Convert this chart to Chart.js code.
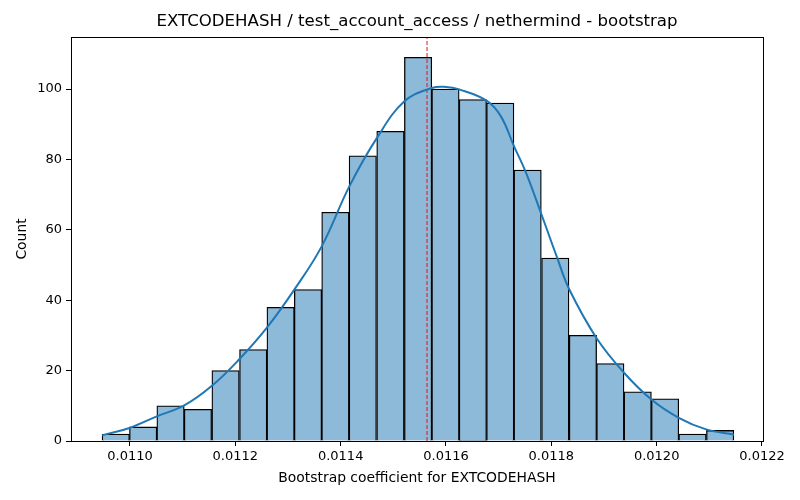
<!DOCTYPE html>
<html>
<head>
<meta charset="utf-8">
<script src="https://cdn.jsdelivr.net/npm/chart.js@4.4.1/dist/chart.umd.min.js"></script>
<style>
  html, body { margin: 0; padding: 0; background: #fff; }
  #grafica { display: block; }
</style>
</head>
<body>
<canvas id="grafica" width="800" height="500"></canvas>
<script>
// bin edges of the histogram (23 bins)
var binEdges = [0.010947, 0.010999, 0.011051, 0.011103, 0.011155, 0.011208, 0.011260, 0.011312,
                0.011364, 0.011416, 0.011468, 0.011521, 0.011573, 0.011625, 0.011677, 0.011729,
                0.011781, 0.011834, 0.011886, 0.011938, 0.011990, 0.012042, 0.012094, 0.012147];
var counts = [2, 4, 10, 9, 20, 26, 38, 43, 65, 81, 88, 109, 100, 97, 96, 77, 52, 30, 22, 14, 12, 2, 3];

// kde curve
var kdeX = [0.010947, 0.010999, 0.011051, 0.011103, 0.011155, 0.011208, 0.011260,
            0.011312, 0.011364, 0.011416, 0.011468, 0.011521, 0.011573, 0.011600,
            0.011625, 0.011677, 0.011704, 0.011729, 0.011752, 0.011781, 0.011810,
            0.011834, 0.011886, 0.011938, 0.011990, 0.012042, 0.012094, 0.012147];
var kdeY = [1.6, 3.7, 7.0, 10.1, 15.6, 23.3, 32.2,
            43.0, 55.3, 72.2, 85.9, 96.5, 100.3, 100.6,
            99.9, 96.7, 92.3, 83.8, 76.2, 64.5, 52.5,
            43.1, 29.2, 19.4, 11.8, 6.6, 3.3, 1.8];

var meanValue = 0.011564;
var xTicks = [0.0110, 0.0112, 0.0114, 0.0116, 0.0118, 0.0120, 0.0122];
var yTicks = [0, 20, 40, 60, 80, 100];
var xMin = 0.010888, xMax = 0.0122019;
var yMin = 0, yMax = 114.8;

var barData = [];
for (var i = 0; i < counts.length; i++) {
    barData.push({ x: (binEdges[i] + binEdges[i + 1]) / 2, y: counts[i] });
}
var kdeData = [];
for (var j = 0; j < kdeX.length; j++) {
    kdeData.push({ x: kdeX[j], y: kdeY[j] });
}

var fuente = "'DejaVu Sans', sans-serif";

var cajaEjes = {
    id: 'cajaEjes',
    afterDraw: function (chart) {
        var a = chart.chartArea, ctx = chart.ctx;
        ctx.save();
        ctx.strokeStyle = '#000';
        ctx.lineWidth = 1;
        ctx.strokeRect(Math.round(a.left) + 0.5, Math.round(a.top) + 0.5,
                       Math.round(a.right - a.left), Math.round(a.bottom - a.top));
        ctx.restore();
    }
};

var miCanvas = document.getElementById('grafica').getContext('2d');
var chart = new Chart(miCanvas, {
    type: 'bar',
    data: {
        datasets: [
            {
                type: 'line',
                label: 'kde',
                data: kdeData,
                borderColor: '#1f77b4',
                borderWidth: 2,
                pointRadius: 0,
                tension: 0.4,
                fill: false,
                order: 1
            },
            {
                type: 'line',
                label: 'mean',
                data: [{ x: meanValue, y: yMin }, { x: meanValue, y: yMax }],
                borderColor: '#e3141e',
                borderWidth: 1,
                borderDash: [4, 2],
                pointRadius: 0,
                fill: false,
                order: 2
            },
            {
                type: 'bar',
                label: 'Count',
                data: barData,
                backgroundColor: '#8ebad9',
                borderColor: '#000',
                borderWidth: 1.3,
                barPercentage: 1,
                categoryPercentage: 1,
                grouped: false,
                order: 3
            }
        ]
    },
    options: {
        responsive: false,
        animation: false,
        devicePixelRatio: 1,
        layout: { padding: { top: 0, right: 37, bottom: 0, left: 0 } },
        plugins: {
            legend: { display: false },
            tooltip: { enabled: false },
            title: {
                display: true,
                fullSize: false,
                text: 'EXTCODEHASH / test_account_access / nethermind - bootstrap',
                color: '#000',
                font: { family: fuente, size: 16.6, weight: 'normal' },
                padding: { top: 12, bottom: 5 }
            }
        },
        scales: {
            x: {
                type: 'linear',
                min: xMin,
                max: xMax,
                offset: false,
                afterFit: function (s) { s.height = 59; },
                afterBuildTicks: function (s) {
                    s.ticks = xTicks.map(function (v) { return { value: v }; });
                },
                ticks: {
                    color: '#000',
                    font: { family: fuente, size: 13 },
                    padding: 3,
                    maxRotation: 0,
                    autoSkip: false,
                    callback: function (v) { return v.toFixed(4); }
                },
                grid: { drawOnChartArea: false, offset: false, color: '#000', tickLength: 5 },
                border: { display: false },
                title: {
                    display: true,
                    text: 'Bootstrap coefficient for EXTCODEHASH',
                    color: '#000',
                    font: { family: fuente, size: 13.9 },
                    padding: { top: 2, bottom: 13 }
                }
            },
            y: {
                type: 'linear',
                min: yMin,
                max: yMax,
                afterFit: function (s) { s.width = 71; },
                afterBuildTicks: function (s) {
                    s.ticks = yTicks.map(function (v) { return { value: v }; });
                },
                ticks: {
                    color: '#000',
                    font: { family: fuente, size: 13 },
                    padding: 4
                },
                grid: { drawOnChartArea: false, color: '#000', tickLength: 5 },
                border: { display: false },
                title: {
                    display: true,
                    text: 'Count',
                    color: '#000',
                    font: { family: fuente, size: 13.9 },
                    padding: { top: 14, bottom: 0 }
                }
            }
        }
    },
    plugins: [cajaEjes]
});
</script>
</body>
</html>
